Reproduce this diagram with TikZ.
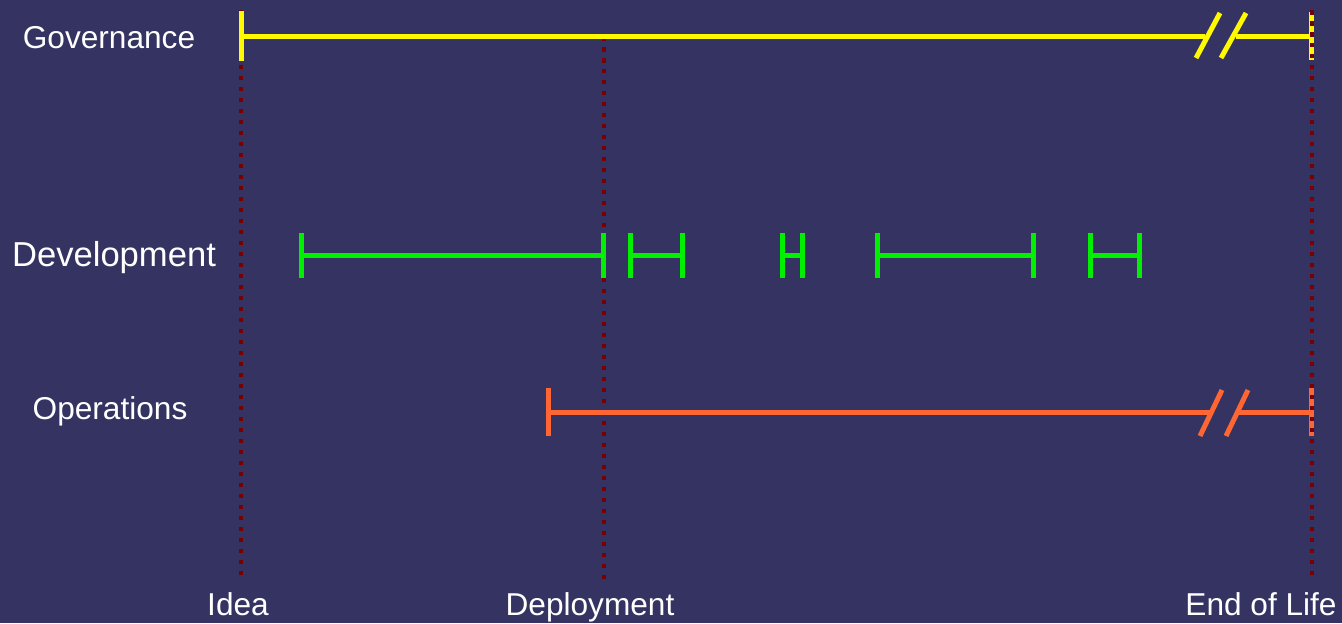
\documentclass[tikz,border=0pt]{standalone}
\usepackage{fontspec}
\setmainfont{Liberation Sans}
\usetikzlibrary{arrows.meta}
\definecolor{bgblue}{RGB}{53,51,98}
\definecolor{govyellow}{RGB}{255,250,0}
\definecolor{devgreen}{RGB}{0,240,0}
\definecolor{opsorange}{RGB}{255,102,51}
\definecolor{milered}{RGB}{120,0,0}

\begin{document}
\begin{tikzpicture}[
    x=0.02cm, y=-0.02cm,
    every node/.style={font=\fontsize{18}{21}\selectfont, text=white},
    milestone/.style={milered, line width=0.09cm, dash pattern=on 0.09cm off 0.13cm},
    bar/.style={line width=0.1cm},
    gov/.style={bar, govyellow},
    dev/.style={bar, devgreen, {Bar[width=0.9cm]}-{Bar[width=0.9cm]}},
    ops/.style={bar, opsorange}
]

% background
\fill[bgblue] (0,0) rectangle (1342,623);
\useasboundingbox (0,0) rectangle (1342,623);

% labels
\node (govlabel) at (109,38) {Governance};
\node[font=\fontsize{19.7}{22}\selectfont] (devlabel) at (114,258) {Development};
\node (opslabel) at (110,411) {Operations};

\node[anchor=base] (idea) at (238,615) {Idea};
\node[anchor=base] (deploy) at (590,615) {Deployment};
\node[anchor=base] (eol) at (1261,615) {End of Life};

% milestones
\coordinate (ideatop) at (241,10);
\coordinate (deploytop) at (604,36);
\coordinate (eoltop) at (1312,10);
\coordinate (ideabot) at (241,577);
\coordinate (deploybot) at (604,580);
\coordinate (eolbot) at (1312,577);

\draw[milestone] (ideatop) -- (ideabot);
\draw[milestone] (deploytop) -- (deploybot);

% governance
\coordinate (g0) at (239,36);
\coordinate (g1) at (1205,36);
\coordinate (g2) at (1236,36);
\coordinate (g3) at (1314,36);
\draw[gov, {Bar[width=1cm]}-] (g0) -- (g1);
\draw[gov, -{Bar[width=0.96cm]}] (g2) -- (g3);
\draw[gov] (1196,58) -- (1220,13);
\draw[gov] (1221,58) -- (1246,13);

% development
\foreach \a/\b [count=\i] in {299/606, 628/685, 780/805, 875/1036, 1088/1142} {
  \coordinate (d\i a) at (\a,255);
  \coordinate (d\i b) at (\b,255);
  \draw[dev] (d\i a) -- (d\i b);
}

% operations
\coordinate (o0) at (546,412);
\coordinate (o1) at (1210,412);
\coordinate (o2) at (1238,412);
\coordinate (o3) at (1314,412);
\draw[ops, {Bar[width=0.96cm]}-] (o0) -- (o1);
\draw[ops, -{Bar[width=0.96cm]}] (o2) -- (o3);
\draw[ops] (1200,436) -- (1222,390);
\draw[ops] (1226,436) -- (1248,390);

\draw[milestone] (eoltop) -- (eolbot);

\end{tikzpicture}
\end{document}
